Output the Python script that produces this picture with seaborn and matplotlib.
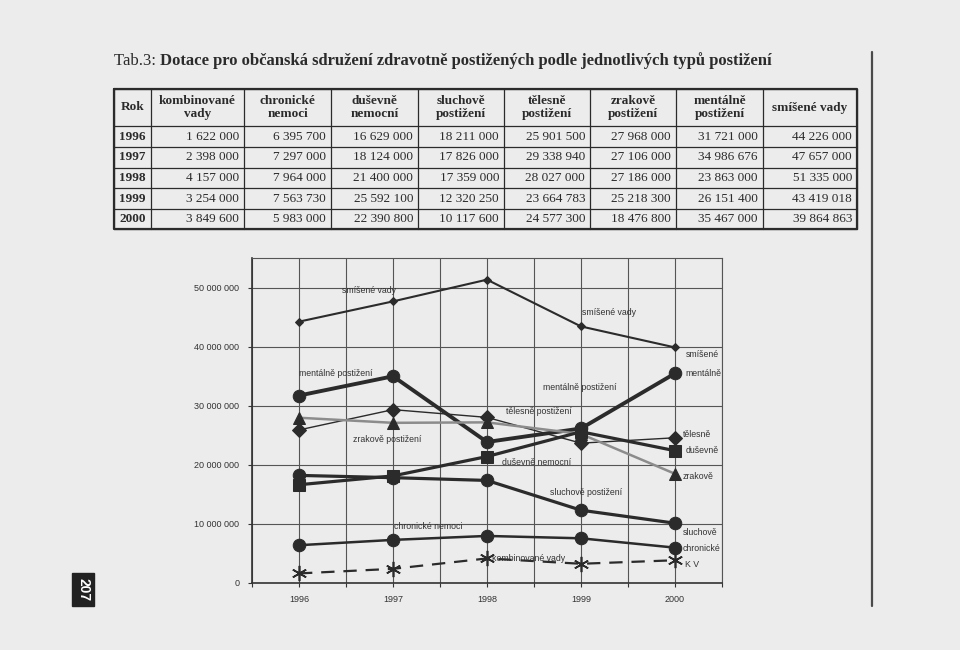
import numpy as np
import pandas as pd
import matplotlib
matplotlib.use("Agg")
import matplotlib.pyplot as plt
from matplotlib.patches import Rectangle
from matplotlib.ticker import FuncFormatter, MultipleLocator
import seaborn as sns

# ---------------- data ----------------
years = [1996, 1997, 1998, 1999, 2000]
kombinovane = [1622000, 2398000, 4157000, 3254000, 3849600]
chronicke = [6395700, 7297000, 7964000, 7563730, 5983000]
dusevne = [16629000, 18124000, 21400000, 25592100, 22390800]
sluchove = [18211000, 17826000, 17359000, 12320250, 10117600]
telesne = [25901500, 29338940, 28027000, 23664783, 24577300]
zrakove = [27968000, 27106000, 27186000, 25218300, 18476800]
mentalne = [31721000, 34986676, 23863000, 26151400, 35467000]
smisene = [44226000, 47657000, 51335000, 43419018, 39864863]

col_headers = ["Rok", "kombinované\nvady", "chronické\nnemoci", "duševně\nnemocní",
               "sluchově\npostižení", "tělesně\npostižení", "zrakově\npostižení",
               "mentálně\npostižení", "smíšené vady"]
title_prefix = "Tab.3: "
title = "Dotace pro občanská sdružení zdravotně postižených podle jednotlivých typů postižení"

sns.set_style("white")
plt.rcParams["font.family"] = ["Liberation Sans", "DejaVu Sans"]

BG = "#ececec"
INK = "#2b2b2b"

fig = plt.figure(figsize=(9.6, 6.5), dpi=100, facecolor=BG)

# ---------- page overlay axes in pixel coordinates ----------
pg = fig.add_axes([0, 0, 1, 1])
pg.set_xlim(0, 960)
pg.set_ylim(650, 0)
pg.axis("off")
pg.set_facecolor(BG)

serif = ["Liberation Serif", "DejaVu Serif"]
t1 = pg.text(114, 65, title_prefix, family=serif, fontsize=12, va="baseline", ha="left", color=INK)
pg.annotate(title, xy=(1, 0), xycoords=t1, va="bottom", ha="left", family=serif,
            fontsize=12, fontweight="bold", color=INK)

# table
xs = [114, 151, 244, 331, 418, 504, 590, 676, 763, 857]
ys = [89, 126, 147, 168, 188, 209, 229]
series_tab = [kombinovane, chronicke, dusevne, sluchove, telesne, zrakove, mentalne, smisene]
for x in xs:
    pg.plot([x, x], [ys[0], ys[-1]], color=INK, lw=0.9)
for y in ys:
    pg.plot([xs[0], xs[-1]], [y, y], color=INK, lw=0.9)
pg.plot([xs[0], xs[-1], xs[-1], xs[0], xs[0]], [ys[0], ys[0], ys[-1], ys[-1], ys[0]], color=INK, lw=1.6)

for j, h in enumerate(col_headers):
    pg.text((xs[j] + xs[j + 1]) / 2, (ys[0] + ys[1]) / 2, h, family=serif, fontsize=9.5,
            fontweight="bold", ha="center", va="center", color=INK, linespacing=1.15)

def fmt(v):
    return f"{v:,}".replace(",", " ")

for i, yr in enumerate(years):
    yc = (ys[i + 1] + ys[i + 2]) / 2
    pg.text((xs[0] + xs[1]) / 2, yc, str(yr), family=serif, fontsize=9.5, fontweight="bold",
            ha="center", va="center", color=INK)
    for j, s in enumerate(series_tab):
        pg.text(xs[j + 2] - 5, yc, fmt(s[i]), family=serif, fontsize=9.5,
                ha="right", va="center", color=INK)

# right vertical rule
pg.plot([872, 872], [52, 606], color="#4a4a4a", lw=1.6)
# page number
pg.add_patch(Rectangle((72, 573), 22, 33, color="#222222"))
pg.text(83, 589.5, "207", rotation=-90, color="white", fontsize=10, fontweight="bold",
        ha="center", va="center")

# ---------------- chart ----------------
ax = fig.add_axes([252 / 960, 1 - 583 / 650, 470 / 960, 325 / 650])
ax.set_facecolor(BG)

styles = [
    ("smíšené vady", smisene, dict(color=INK, lw=1.5, marker="D", ms=4)),
    ("mentálně postižení", mentalne, dict(color=INK, lw=2.8, marker="o", ms=9)),
    ("tělesně postižení", telesne, dict(color=INK, lw=1.0, marker="D", ms=7)),
    ("zrakově postižení", zrakove, dict(color="#8c8c8c", lw=1.8, marker="^", ms=8, mfc=INK)),
    ("duševně nemocní", dusevne, dict(color=INK, lw=2.3, marker="s", ms=8)),
    ("sluchově postižení", sluchove, dict(color=INK, lw=2.3, marker="o", ms=9)),
    ("chronické nemoci", chronicke, dict(color=INK, lw=1.8, marker="o", ms=9)),
    ("kombinované vady", kombinovane, dict(color=INK, lw=1.6, marker=(6, 2, 0), ms=11,
                                           mew=1.2, ls=(0, (6, 4)))),
]
for name, vals, kw in styles:
    df = pd.DataFrame({"rok": years, "v": vals})
    sns.lineplot(data=df, x="rok", y="v", ax=ax, legend=False, zorder=3, mec=INK, **kw)

ax.set_xlim(1995.5, 2000.5)
ax.set_ylim(0, 55_000_000)
ax.xaxis.set_minor_locator(MultipleLocator(0.5))
ax.yaxis.set_major_locator(MultipleLocator(10_000_000))
ax.yaxis.set_major_formatter(FuncFormatter(lambda v, p: fmt(int(v))))
ax.set_xticks(years)
ax.set_xticklabels([str(y) for y in years])
ax.grid(True, which="both", axis="x", color="#555555", lw=0.8)
ax.grid(True, which="major", axis="y", color="#555555", lw=0.8)
ax.set_axisbelow(True)
ax.set_xlabel("")
ax.set_ylabel("")
ax.tick_params(axis="both", labelsize=6.5, colors="#333333", length=3, width=0.8, direction="out")
ax.tick_params(axis="x", which="minor", length=3, width=0.8, colors="#333333")
ax.tick_params(axis="y", pad=6)
ax.tick_params(axis="x", pad=6)
ax.xaxis.set_ticks_position("bottom")
ax.yaxis.set_ticks_position("left")
for sp in ax.spines.values():
    sp.set_color("#555555")
    sp.set_linewidth(0.8)
ax.spines["left"].set_color("#333333")
ax.spines["bottom"].set_color("#333333")
ax.spines["left"].set_linewidth(1.2)
ax.spines["bottom"].set_linewidth(1.2)

# annotations (pixel positions converted into data coordinates)
def px2d(px, py):
    return 1996 + (px - 299.5) / 94.2, (583 - py) / 5.93 * 1e6

notes = [
    ("smíšené vady", 370, 289, "center"),
    ("smíšené vady", 610, 312, "center"),
    ("mentálně postižení", 300, 373, "left"),
    ("mentálně postižení", 544, 387, "left"),
    ("tělesně postižení", 507, 411, "left"),
    ("zrakově postižení", 354, 439, "left"),
    ("duševně nemocní", 503, 462, "left"),
    ("sluchově postižení", 551, 492, "left"),
    ("chronické nemoci", 395, 526, "left"),
    ("kombinované vady", 493, 558, "left"),
    ("smíšené", 687, 354, "left"),
    ("mentálně", 687, 373, "left"),
    ("tělesně", 684, 434, "left"),
    ("duševně", 687, 450, "left"),
    ("zrakově", 684, 476, "left"),
    ("sluchově", 684, 532, "left"),
    ("chronické", 684, 548, "left"),
    ("K V", 686, 564, "left"),
]
for t, px, py, ha in notes:
    x, y = px2d(px, py)
    ax.text(x, y, t, fontsize=6.3, ha=ha, va="center", color="#333333", zorder=4,
            clip_on=False)

fig.savefig("out.png", dpi=100, facecolor=BG)
